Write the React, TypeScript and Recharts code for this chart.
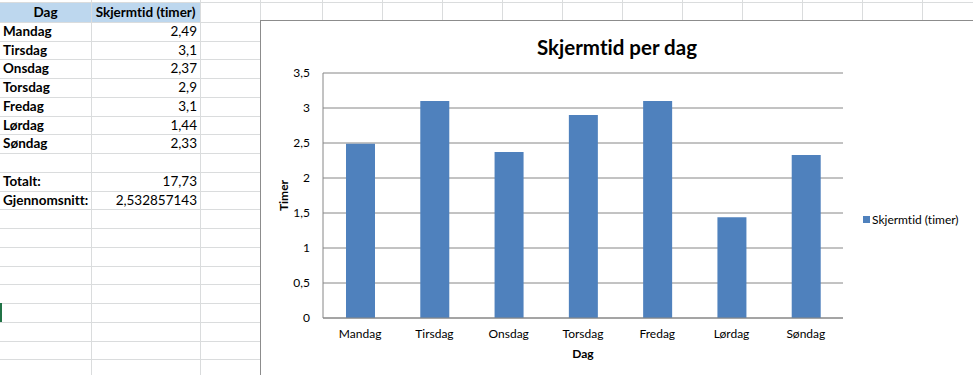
import { BarChart, Bar, XAxis, YAxis, CartesianGrid, Legend, Label } from 'recharts'

const days = ['Mandag', 'Tirsdag', 'Onsdag', 'Torsdag', 'Fredag', 'Lørdag', 'Søndag']
const hours = [2.49, 3.1, 2.37, 2.9, 3.1, 1.44, 2.33]
const hourLabels = ['2,49', '3,1', '2,37', '2,9', '3,1', '1,44', '2,33']
const yTicks = [0, 0.5, 1, 1.5, 2, 2.5, 3, 3.5]
const summaryLabels = ['Totalt:', 'Gjennomsnitt:']
const summaryValues = ['17,73', '2,532857143']
const seriesName = 'Skjermtid (timer)'
const title = 'Skjermtid per dag'

const FONT = 'Lato, "Noto Sans", sans-serif'
const BAR_COLOR = '#4F81BD'
const GRID = '#868686'
const SHEET_LINE = '#DADCDD'
const ROW_H = 18.75
const ROW_TOP = 3.2
const colEdges = [0, 91, 200, 260, 322, 382, 442, 502, 562, 622, 682, 742, 802, 862, 922]

const data = days.map((d, i) => ({ day: d, value: hours[i] }))

function fmt(v: number) {
  return String(v).replace('.', ',')
}

function Sheet() {
  const rows: React.ReactNode[] = []
  for (let i = 0; i < 20; i++) {
    const y = Math.round(ROW_TOP + (i + 1) * ROW_H)
    rows.push(
      <div key={'r' + i} style={{ position: 'absolute', left: 0, width: 973, top: y, height: 1, background: SHEET_LINE }} />,
    )
  }
  rows.push(<div key="rtop" style={{ position: 'absolute', left: 0, width: 973, top: 2, height: 1, background: SHEET_LINE }} />)
  const cols = colEdges.slice(1).map((x) => (
    <div key={'c' + x} style={{ position: 'absolute', left: x, top: 0, width: 1, height: 375, background: SHEET_LINE }} />
  ))

  const cellText = (row: number, a: string, b: string, key: string) => {
    const top = ROW_TOP + row * ROW_H
    return (
      <div key={key}>
        <div style={{ position: 'absolute', left: 3, top, height: ROW_H, lineHeight: ROW_H + 'px', fontWeight: 700 }}>{a}</div>
        <div style={{ position: 'absolute', left: 91, width: 106, top, height: ROW_H, lineHeight: ROW_H + 'px', textAlign: 'right' }}>{b}</div>
      </div>
    )
  }

  return (
    <div style={{ position: 'absolute', left: 0, top: 0, width: 973, height: 375, fontFamily: FONT, fontSize: 13.5, color: '#000', fontVariantLigatures: 'none' }}>
      <div style={{ position: 'absolute', left: 0, top: 3, width: 200, height: 19, background: '#BDD7EE' }} />
      {rows}
      {cols}
      <div style={{ position: 'absolute', left: 0, top: 3, width: 91, height: ROW_H, lineHeight: ROW_H + 'px', textAlign: 'center', fontWeight: 700 }}>Dag</div>
      <div style={{ position: 'absolute', left: 91, top: 3, width: 109, height: ROW_H, lineHeight: ROW_H + 'px', textAlign: 'center', fontWeight: 700 }}>{seriesName}</div>
      {days.map((d, i) => cellText(i + 1, d, hourLabels[i], 'd' + i))}
      {summaryLabels.map((s, i) => cellText(i + 9, s, summaryValues[i], 's' + i))}
      <div style={{ position: 'absolute', left: 0, top: 303, width: 2, height: 19, background: '#217346' }} />
    </div>
  )
}

function renderYTitle(props: any) {
  const vb = props.viewBox
  const cx = vb.x + 22
  const cy = vb.y + vb.height / 2
  return (
    <text x={cx} y={cy} transform={`rotate(-90 ${cx} ${cy})`} textAnchor="middle" dominantBaseline="central" fontFamily={FONT} fontSize={12} fontWeight={700} fill="#000">
      Timer
    </text>
  )
}

function renderXTitle(props: any) {
  const vb = props.viewBox
  const cx = vb.x + vb.width / 2
  const cy = vb.y + 35
  return (
    <text x={cx} y={cy} textAnchor="middle" dominantBaseline="central" fontFamily={FONT} fontSize={12} fontWeight={700} fill="#000">
      Dag
    </text>
  )
}

function renderLegend(props: any) {
  const items = props.payload || []
  return (
    <div style={{ fontFamily: FONT, fontSize: 12, color: '#000', fontVariantLigatures: 'none' }}>
      {items.map((it: any) => (
        <div key={it.value} style={{ display: 'flex', alignItems: 'center', height: 16 }}>
          <span style={{ display: 'inline-block', width: 7, height: 7, background: BAR_COLOR, marginRight: 2 }} />
          {it.value}
        </div>
      ))}
    </div>
  )
}

export default function App() {
  return (
    <div style={{ position: 'fixed', left: 0, top: 0, width: 973, height: 375, background: '#fff', overflow: 'hidden' }}>
      <Sheet />
      <div
        style={{
          position: 'absolute',
          left: 260,
          top: 20,
          width: 713,
          height: 355,
          boxSizing: 'border-box',
          borderLeft: '1px solid #8c8c8c',
          borderTop: '1px solid #8c8c8c',
          background: '#fff',
        }}
      >
        <div style={{ position: 'absolute', left: 0, top: 15, width: 712, textAlign: 'center', fontFamily: FONT, fontSize: 20.5, fontWeight: 700, lineHeight: '22px', color: '#000', fontVariantLigatures: 'none' }}>
          {title}
        </div>
        <BarChart width={712} height={354} data={data} margin={{ top: 52, right: 130, left: 0, bottom: 0 }}>
          <CartesianGrid vertical={false} stroke={GRID} />
          <XAxis
            dataKey="day"
            height={57}
            tickLine={false}
            tickSize={6}
            tickMargin={5}
            axisLine={{ stroke: GRID }}
            tick={{ fill: '#000', fontSize: 12, fontFamily: FONT }}
          >
            <Label content={renderXTitle} />
          </XAxis>
          <YAxis
            width={62}
            domain={[0, 3.5]}
            ticks={yTicks}
            tickFormatter={fmt}
            tickLine={false}
            tickSize={6}
            tickMargin={7}
            axisLine={{ stroke: GRID }}
            tick={{ fill: '#000', fontSize: 12, fontFamily: FONT }}
          >
            <Label content={renderYTitle} />
          </YAxis>
          <Legend
            layout="horizontal"
            verticalAlign="middle"
            align="center"
            content={renderLegend}
            wrapperStyle={{ left: 602, top: 190, width: 'auto' }}
          />
          <Bar dataKey="value" name={seriesName} fill={BAR_COLOR} barSize={29} isAnimationActive={false} />
        </BarChart>
      </div>
    </div>
  )
}
